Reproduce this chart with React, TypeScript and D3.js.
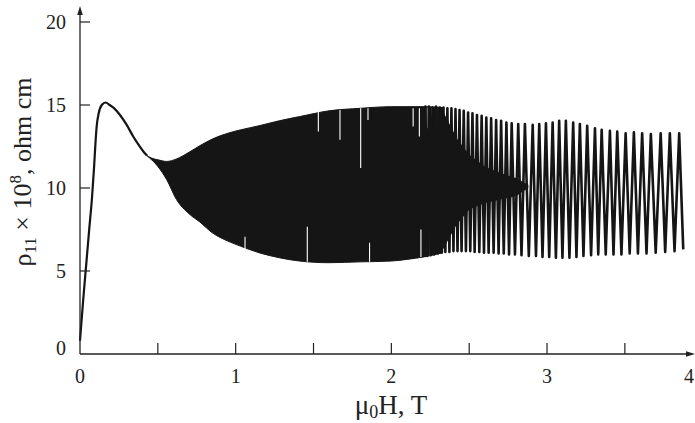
import React from 'react';
import * as d3 from 'd3';

const W = 695;
const H = 423;

// smooth low-field part
const curveH = [0, 0.02, 0.04, 0.06, 0.077, 0.09, 0.1, 0.107, 0.12, 0.14, 0.165, 0.19, 0.22, 0.257, 0.3, 0.342, 0.38, 0.407, 0.43];
const curveRho = [0.8, 3.2, 5.4, 7.6, 9.4, 11.2, 12.8, 13.7, 14.5, 15.0, 15.15, 15.0, 14.8, 14.4, 13.8, 13.1, 12.55, 12.2, 11.95];

// unresolved (dense) oscillation envelope
const denseH = [0.43, 0.46, 0.5, 0.557, 0.62, 0.7, 0.77, 0.85, 0.95, 1.03, 1.15, 1.28, 1.41, 1.6, 1.8, 2.0, 2.1, 2.21, 2.33];
const denseUpper = [11.95, 11.8, 11.7, 11.6, 11.75, 12.15, 12.55, 12.95, 13.3, 13.5, 13.75, 14.05, 14.3, 14.65, 14.8, 14.9, 14.9, 14.9, 14.85];
const denseLower = [11.95, 11.7, 11.3, 10.5, 9.3, 8.45, 7.95, 7.3, 6.8, 6.5, 6.1, 5.8, 5.6, 5.5, 5.55, 5.6, 5.7, 5.85, 6.1];

// saturated core of the partly resolved oscillations
const coreH = [2.32, 2.42, 2.5, 2.6, 2.7, 2.8, 2.88];
const coreUpper = [14.85, 13.0, 12.0, 11.3, 10.9, 10.6, 10.2];
const coreLower = [6.1, 7.8, 8.7, 9.1, 9.3, 9.5, 10.0];

// resolved oscillation maxima
const peakH = [2.219, 2.241, 2.264, 2.287, 2.311, 2.335, 2.36, 2.386, 2.412, 2.438, 2.465, 2.493, 2.521, 2.55, 2.58, 2.61, 2.641, 2.673, 2.705, 2.739,
  2.773, 2.815, 2.858, 2.908, 2.95, 2.993, 3.036, 3.078, 3.121, 3.168, 3.211, 3.258, 3.308, 3.351, 3.404, 3.451, 3.505, 3.558, 3.611, 3.667, 3.73, 3.789, 3.849];
const peakRho = [14.9, 14.9, 14.85, 14.9, 14.85, 14.85, 14.8, 14.8, 14.75, 14.7, 14.65, 14.55, 14.5, 14.4, 14.35, 14.25, 14.2, 14.1, 14.05, 13.95,
  13.9, 13.85, 13.85, 13.8, 13.85, 13.9, 13.95, 14.05, 14.05, 13.95, 13.85, 13.75, 13.6, 13.5, 13.45, 13.4, 13.3, 13.35, 13.3, 13.25, 13.3, 13.3, 13.3];

// resolved oscillation minima
const troughH = [2.208, 2.23, 2.252, 2.275, 2.299, 2.323, 2.347, 2.373, 2.399, 2.425, 2.451, 2.479, 2.507, 2.535, 2.565, 2.595, 2.625, 2.657, 2.689, 2.722,
  2.756, 2.794, 2.836, 2.883, 2.929, 2.971, 3.014, 3.057, 3.099, 3.144, 3.189, 3.234, 3.283, 3.329, 3.377, 3.427, 3.478, 3.531, 3.584, 3.639, 3.698, 3.759, 3.819, 3.875];
const troughRho = [5.85, 5.9, 5.95, 6.0, 6.05, 6.1, 6.15, 6.15, 6.2, 6.2, 6.2, 6.2, 6.2, 6.15, 6.15, 6.1, 6.1, 6.1, 6.05, 6.05,
  6.0, 6.0, 5.95, 5.9, 5.9, 5.85, 5.85, 5.8, 5.8, 5.8, 5.85, 5.9, 5.95, 6.0, 6.0, 6.0, 6.0, 6.05, 6.05, 6.05, 6.1, 6.15, 6.2, 6.3];

// white gaps visible inside the dense region
const gapH = [1.06, 1.46, 1.531, 1.67, 1.803, 1.85, 1.86, 2.14, 2.18, 2.19, 2.23, 2.26, 2.29, 2.31, 2.25, 2.3];
const gapTop = [7.07, 7.67, 14.6, 14.7, 14.8, 14.8, 6.7, 14.8, 14.8, 7.5, 14.85, 14.85, 14.85, 14.85, 7.6, 7.9];
const gapBottom = [6.27, 5.56, 13.4, 12.9, 11.2, 14.1, 5.55, 13.7, 13.1, 5.85, 13.6, 13.2, 13.5, 13.0, 5.9, 6.1];

const xTickValues = [0.5, 1, 1.5, 2, 2.5, 3, 3.5];
const xLabelValues = [0, 1, 2, 3, 4];
const yTickValues = [5, 10, 15, 20];
const yLabelValues = [0, 5, 10, 15, 20];

const INK = '#151515';
const AX = '#222';
const FONT = '"Liberation Serif", "DejaVu Serif", serif';

type Env = { h: number; u: number; l: number };

export default function App() {
  const x = d3.scaleLinear().domain([0, 4]).range([80, 702.7]);
  const y = d3.scaleLinear().domain([0, 20]).range([354, 22]);

  const curvePts: [number, number][] = curveH.map((h, i) => [h, curveRho[i]]);
  const line = d3.line<[number, number]>().x(d => x(d[0])).y(d => y(d[1])).curve(d3.curveMonotoneX);
  const straight = d3.line<[number, number]>().x(d => x(d[0])).y(d => y(d[1]));

  const area = d3.area<Env>().x(d => x(d.h)).y0(d => y(d.l)).y1(d => y(d.u)).curve(d3.curveMonotoneX);
  const areaLin = d3.area<Env>().x(d => x(d.h)).y0(d => y(d.l)).y1(d => y(d.u));
  const denseData: Env[] = denseH.map((h, i) => ({ h, u: denseUpper[i], l: denseLower[i] }));
  const coreData: Env[] = coreH.map((h, i) => ({ h, u: coreUpper[i], l: coreLower[i] }));

  const zig: [number, number][] = [];
  troughH.forEach((t, i) => {
    zig.push([t, troughRho[i]]);
    if (i < peakH.length) zig.push([peakH[i], peakRho[i]]);
  });

  const x0 = x(0);
  const yBase = y(0);

  return (
    <svg width={W} height={H} viewBox={`0 0 ${W} ${H}`}
      style={{ position: 'absolute', left: 0, top: 0, background: '#fff', display: 'block' }}>
      <rect width={W} height={H} fill="#fff" />
      {/* data */}
      <path d={area(denseData) || ''} fill={INK} stroke={INK} strokeWidth={1} />
      <path d={areaLin(coreData) || ''} fill={INK} stroke="none" />
      {gapH.map((g, i) => (
        <line key={'g' + i} x1={x(g)} x2={x(g)} y1={y(gapTop[i])} y2={y(gapBottom[i])} stroke="#fff" strokeWidth={1.1} />
      ))}
      <path d={straight(zig) || ''} fill="none" stroke={INK} strokeWidth={2.6} strokeLinejoin="round" />
      <path d={line(curvePts) || ''} fill="none" stroke={INK} strokeWidth={2.2} />

      {/* axes */}
      <line x1={x0} x2={x0} y1={yBase} y2={10} stroke={AX} strokeWidth={1.3} />
      <path d={`M${x0},6 L${x0 - 2.8},15 L${x0 + 2.8},15 Z`} fill={AX} />
      <line x1={x0} x2={688} y1={yBase} y2={yBase} stroke={AX} strokeWidth={1.3} />
      <path d={`M695,${yBase} L686,${yBase - 2.8} L686,${yBase + 2.8} Z`} fill={AX} />
      {xTickValues.map(v => (
        <line key={'xt' + v} x1={x(v)} x2={x(v)} y1={yBase} y2={yBase - 11} stroke={AX} strokeWidth={1.2} />
      ))}
      {yTickValues.map(v => (
        <line key={'yt' + v} x1={x0} x2={x0 + 10} y1={y(v)} y2={y(v)} stroke={AX} strokeWidth={1.2} />
      ))}
      {xLabelValues.map(v => (
        <text key={'xl' + v} x={Math.min(x(v), 689)} y={383} fontSize={20} fontFamily={FONT} textAnchor="middle" fill={AX}>{v}</text>
      ))}
      {yLabelValues.map(v => (
        <text key={'yl' + v} x={66} y={y(v) + (v === 0 ? 0.5 : 6.8)} fontSize={20} fontFamily={FONT} textAnchor="end" fill={AX}>{v}</text>
      ))}

      {/* titles */}
      <text x={391} y={414} fontSize={27} fontFamily={FONT} textAnchor="middle" fill={AX}>
        μ<tspan fontSize={18} dy={4}>0</tspan><tspan dy={-4}>H, T</tspan>
      </text>
      <text transform={`translate(31,172) rotate(-90)`} fontSize={26} fontFamily={FONT} textAnchor="middle" fill={AX}>
        ρ<tspan fontSize={17} dy={5}>11</tspan><tspan dy={-5}> × 10</tspan><tspan fontSize={17} dy={-10}>8</tspan><tspan dy={10}>, ohm cm</tspan>
      </text>
    </svg>
  );
}
